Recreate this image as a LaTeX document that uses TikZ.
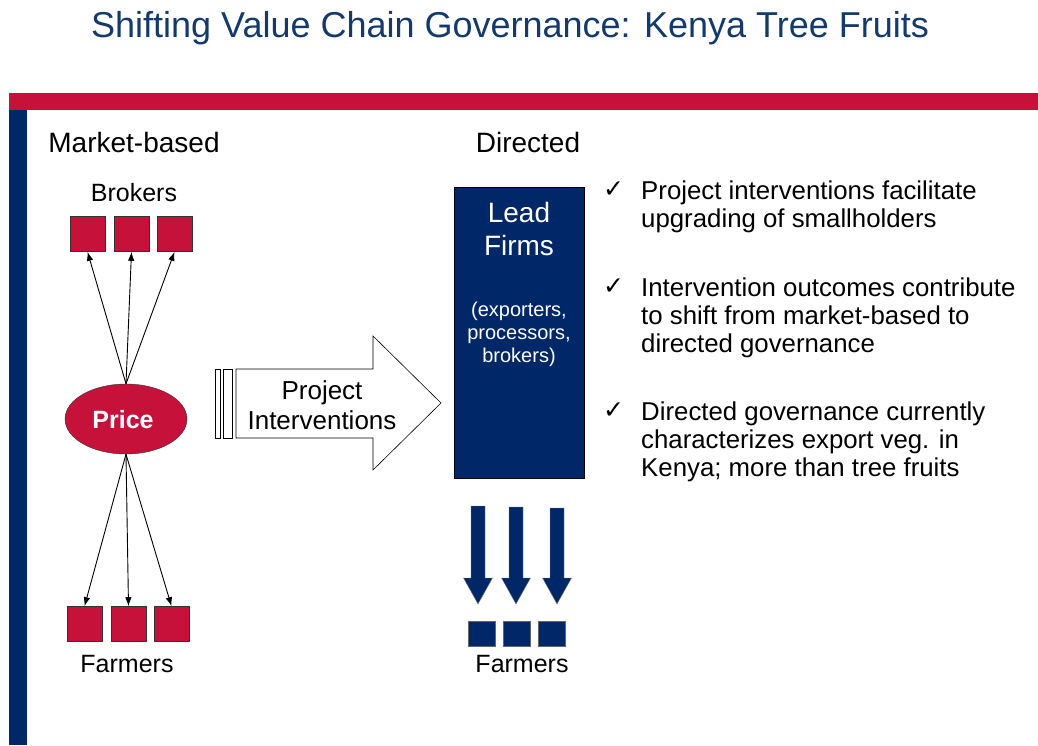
\documentclass[tikz,border=0pt]{standalone}
\usepackage{fontspec}
\setmainfont{Liberation Sans}
\newfontfamily\symfont{DejaVu Sans}
\usepackage{tikz}
\usetikzlibrary{arrows}
\usetikzlibrary{arrows.meta}
\usetikzlibrary{shapes}
\usetikzlibrary{shapes.geometric}
\usetikzlibrary{positioning}
\usetikzlibrary{calc}
\definecolor{chainred}{RGB}{198,18,58}
\definecolor{chainblue}{RGB}{0,40,104}
\definecolor{titleblue}{RGB}{20,58,108}
\tikzset{
  >={Latex[length=9pt,width=6.5pt]},
  line/.style={draw, ->, line width=0.9pt},
  fs/.style={font=\fontsize{#1}{#1}\selectfont}
}

\begin{document}
\begin{tikzpicture}[x=1pt, y=-1pt]
    % Define styles
    \tikzstyle{redbox} = [rectangle, draw=black!80, fill=chainred, line width=0.6pt, minimum size=35pt, inner sep=0pt]
    \tikzstyle{bluebox} = [rectangle, draw=black!60, fill=chainblue, line width=0.5pt, minimum width=27pt, minimum height=25pt, inner sep=0pt]
    \tikzstyle{label} = [anchor=base, inner sep=0pt, fs=25]
    \tikzstyle{head} = [anchor=base, inner sep=0pt, fs=28]
    \tikzstyle{point} = [anchor=base west, inner sep=0pt, align=left, font=\fontsize{25.8}{28}\selectfont]
    \tikzstyle{tick} = [anchor=base west, inner sep=0pt, font=\symfont\fontsize{25}{25}\selectfont]
    \tikzstyle{downarrow} = [fill=chainblue, draw=black!50, line width=0.4pt]

    \useasboundingbox (0,0) rectangle (1038,745);

    % Title and frame bars
    \node [anchor=base, inner sep=0pt, text=titleblue, fs=36] (title) at (510,37) {Shifting Value Chain Governance: Kenya Tree Fruits};
    \fill [chainred] (9,93) rectangle (1038,110);
    \fill [chainblue] (9,110) rectangle (27,745);

    % Market-based side
    \node [head] (market) at (134,152) {Market-based};
    \node [label] (brokers) at (134,201) {Brokers};
    \node [redbox] (b1) at (87.5,234) {};
    \node [redbox] (b2) at (131.5,234) {};
    \node [redbox] (b3) at (174.5,234) {};
    \node [ellipse, draw=black!80, fill=chainred, minimum width=122pt, minimum height=70pt] (price) at (126,419) {};
    \node [anchor=base, text=white, font=\bfseries\fontsize{25}{25}\selectfont, inner sep=0pt] at (123,428) {Price};
    \node [redbox] (f1) at (84.5,624) {};
    \node [redbox] (f2) at (128.5,624) {};
    \node [redbox] (f3) at (171.5,624) {};
    \node [label] (farmers) at (127,672) {Farmers};

    \path [line] (price.north) -- (b1.south);
    \path [line] (price.north) -- (b2.south);
    \path [line] (price.north) -- (b3.south);
    \path [line] (price.south) -- (f1.north);
    \path [line] (price.south) -- (f2.north);
    \path [line] (price.south) -- (f3.north);

    % Striped arrow
    \draw [fill=white, line width=0.6pt] (215,369) rectangle (220,438);
    \draw [fill=white, line width=0.6pt] (223,369) rectangle (232,438);
    \draw [fill=white, line width=0.6pt] (236,369) -- (373,369) -- (373,336) -- (441,403)
        -- (373,470) -- (373,438) -- (236,438) -- cycle;
    \node [anchor=base, inner sep=0pt, align=center, font=\fontsize{26}{30}\selectfont] (project) at (322,429) {Project\\Interventions};

    % Directed side
    \node [head] (directed) at (528,152) {Directed};
    \node [rectangle, draw=black, fill=chainblue, line width=0.8pt, minimum width=130pt, minimum height=291pt, anchor=north west, inner sep=0pt] (lead) at (454,187) {};
    \node [anchor=base, inner sep=0pt, align=center, text=white, font=\fontsize{28}{33}\selectfont] (leadtxt) at (519,255) {Lead\\Firms};
    \node [anchor=base, inner sep=0pt, align=center, text=white, font=\fontsize{20}{23}\selectfont] (leadsub) at (519,362) {(exporters,\\processors,\\brokers)};

    \foreach \x/\t in {478/506, 516/507, 557/508} {
        \draw [downarrow] (\x-7,\t) -- (\x+7,\t) -- (\x+7,578) -- (\x+14.5,578) -- (\x,604)
            -- (\x-14.5,578) -- (\x-7,578) -- cycle;
    }
    \node [bluebox] (g1) at (482,633.5) {};
    \node [bluebox] (g2) at (516.5,633.5) {};
    \node [bluebox] (g3) at (551.5,633.5) {};
    \node [label] (growers) at (522,672) {Farmers};

    % Check list
    \node [tick] (t1) at (603,197) {✓};
    \node [point] (p1) at (641,227) {Project interventions facilitate\\upgrading of smallholders};
    \node [tick] (t2) at (603,294) {✓};
    \node [point] (p2) at (641,352) {Intervention outcomes contribute\\to shift from market-based to\\directed governance};
    \node [tick] (t3) at (603,418) {✓};
    \node [point] (p3) at (641,476) {Directed governance currently\\characterizes export veg. in\\Kenya; more than tree fruits};
\end{tikzpicture}
\end{document}
